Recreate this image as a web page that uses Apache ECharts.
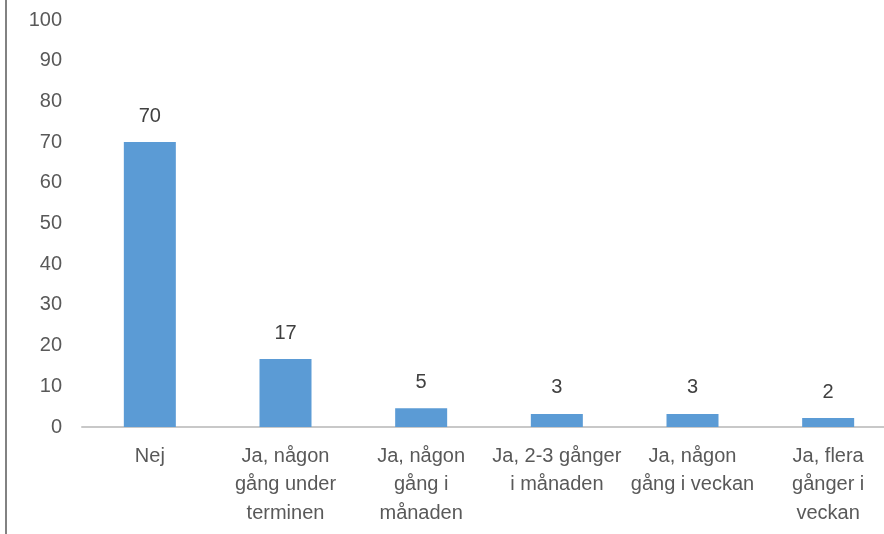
<!DOCTYPE html>
<html>
<head>
<meta charset="utf-8">
<script src="https://cdn.jsdelivr.net/npm/echarts@6/dist/echarts.min.js"></script>
<style>
  html, body { margin: 0; padding: 0; background: #fff; }
  #chart { width: 884px; height: 534px; }
</style>
</head>
<body>
<div id="chart"></div>
<script>
// data
var categories = [
  'Nej',
  'Ja, någon\ngång under\nterminen',
  'Ja, någon\ngång i\nmånaden',
  'Ja, 2-3 gånger\ni månaden',
  'Ja, någon\ngång i veckan',
  'Ja, flera\ngånger i\nveckan'
];
var values = [70, 16.7, 4.6, 3.2, 3.2, 2.2];
var yTicks = [0, 10, 20, 30, 40, 50, 60, 70, 80, 90, 100];

var textFont = '"Liberation Sans", Arial, sans-serif';

var myChart = echarts.init(document.getElementById('chart'));
var option = {
  animation: false,
  // the plot runs past the right edge (picture is cropped there)
  grid: { left: 82, width: 814, top: 20, height: 407, outerBoundsMode: 'none', containLabel: false },
  xAxis: {
    type: 'category',
    data: categories,
    axisTick: { show: false },
    axisLine: { lineStyle: { color: '#c8c8c8', width: 2 } },
    axisLabel: {
      color: '#595959',
      fontFamily: textFont,
      fontSize: 20,
      lineHeight: 28.5,
      margin: 15,
      interval: 0
    }
  },
  yAxis: {
    type: 'value',
    min: yTicks[0],
    max: yTicks[yTicks.length - 1],
    interval: 10,
    splitLine: { show: false },
    axisLine: { show: false },
    axisTick: { show: false },
    axisLabel: {
      color: '#595959',
      fontFamily: textFont,
      fontSize: 20,
      margin: 20
    }
  },
  series: [{
    type: 'bar',
    data: values,
    barWidth: 52,
    itemStyle: { color: '#5b9bd5' },
    label: {
      show: true,
      position: 'top',
      distance: 16,
      color: '#404040',
      fontFamily: textFont,
      fontSize: 20,
      formatter: function (p) { return Math.round(p.value); }
    }
  }],
  graphic: [{
    type: 'line',
    shape: { x1: 6, y1: 0, x2: 6, y2: 534 },
    style: { stroke: '#595959', lineWidth: 1.5 }
  }]
};
myChart.setOption(option);
</script>
</body>
</html>
